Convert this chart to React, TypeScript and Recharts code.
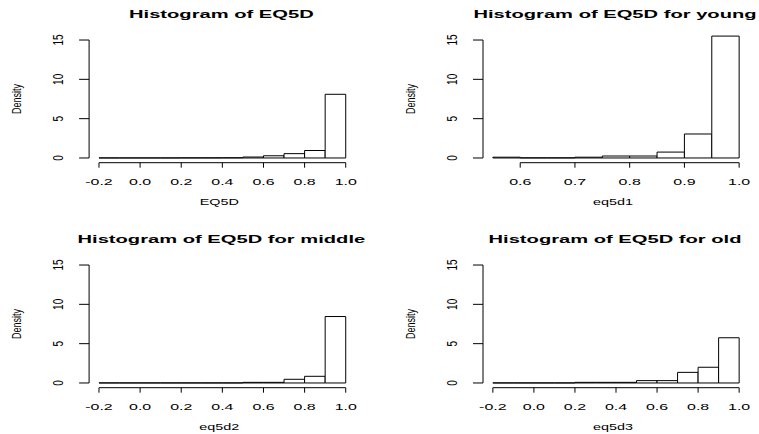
import React from "react";
import { ComposedChart, ReferenceArea, ReferenceLine, XAxis, YAxis } from "recharts";

// histogram breaks and densities
const fullBreaks = [-0.2, -0.1, 0, 0.1, 0.2, 0.3, 0.4, 0.5, 0.6, 0.7, 0.8, 0.9, 1.0];
const youngBreaks = [0.55, 0.6, 0.65, 0.7, 0.75, 0.8, 0.85, 0.9, 0.95, 1.0];

const eq5dDensity = [0.01, 0.01, 0.01, 0.01, 0.02, 0.02, 0.03, 0.12, 0.28, 0.55, 0.95, 8.1];
const youngDensity = [0.1, 0.02, 0.02, 0.1, 0.25, 0.25, 0.75, 3.05, 15.5];
const middleDensity = [0.01, 0.01, 0.01, 0.01, 0.01, 0.01, 0.01, 0.08, 0.08, 0.47, 0.85, 8.45];
const oldDensity = [0.01, 0.01, 0.01, 0.01, 0.08, 0.08, 0.08, 0.3, 0.3, 1.35, 2.0, 5.75];

const fullTicks = [-0.2, 0, 0.2, 0.4, 0.6, 0.8, 1.0];
const youngTicks = [0.6, 0.7, 0.8, 0.9, 1.0];
const densityTicks = [0, 5, 10, 15];

const titles = [
  "Histogram of EQ5D",
  "Histogram of EQ5D for young",
  "Histogram of EQ5D for middle",
  "Histogram of EQ5D for old",
];
const xLabels = ["EQ5D", "eq5d1", "eq5d2", "eq5d3"];

const FONT = '"Liberation Sans", Arial, sans-serif';
const W = 380;
const H = 208;
const PLOT_TOP = 35.3;
const PLOT_BOTTOM = 162.7;
const X_AXIS_H = 40;

// R pads axis ranges by 4% on each side
const pad = (lo: number, hi: number): [number, number] => [lo - 0.04 * (hi - lo), hi + 0.04 * (hi - lo)];

function Stretched({ x, y, sx, size, bold, rotate, children }: any) {
  return (
    <text
      transform={`translate(${x} ${y}) scale(${sx} 1)${rotate ? " rotate(-90)" : ""}`}
      textAnchor="middle"
      fontFamily={FONT}
      fontSize={size}
      fontWeight={bold ? "bold" : "normal"}
      fill="#000"
    >
      {children}
    </text>
  );
}

function Panel({ left, top, title, xLabel, breaks, density, xTicks, plotLeft, plotRight }: any) {
  const rows = density.map((d: number, i: number) => ({ x0: breaks[i], x1: breaks[i + 1], d }));
  const xDom = pad(breaks[0], breaks[breaks.length - 1]);
  const yDom = pad(densityTicks[0], densityTicks[densityTicks.length - 1]);
  const cx = (plotLeft + plotRight) / 2;
  const cy = (PLOT_TOP + PLOT_BOTTOM) / 2;

  return (
    <div style={{ position: "absolute", left, top, width: W, height: H }}>
      <ComposedChart
        width={W}
        height={H}
        data={rows}
        margin={{ top: PLOT_TOP, right: W - plotRight, bottom: H - PLOT_BOTTOM - X_AXIS_H, left: 0 }}
      >
        <XAxis
          type="number"
          dataKey="x0"
          domain={xDom}
          allowDataOverflow
          ticks={xTicks}
          interval={0}
          axisLine={false}
          stroke="#000"
          tickLine={{ stroke: "#000" }}
          tickSize={5}
          tickMargin={0}
          height={X_AXIS_H}
          tick={(p: any) => (
            <Stretched x={p.x} y={p.y + 17} sx={1.68} size={9.5}>
              {Number(p.payload.value).toFixed(1)}
            </Stretched>
          )}
        />
        <YAxis
          type="number"
          domain={yDom}
          allowDataOverflow
          ticks={densityTicks}
          interval={0}
          axisLine={false}
          stroke="#000"
          tickLine={{ stroke: "#000" }}
          tickSize={10}
          tickMargin={0}
          width={plotLeft}
          tick={(p: any) => (
            <Stretched x={p.x - 16} y={p.y} sx={1.4} size={10} rotate>
              {p.payload.value}
            </Stretched>
          )}
        />
        {rows.map((r: any) => (
          <ReferenceArea
            key={r.x0}
            x1={r.x0}
            x2={r.x1}
            y1={0}
            y2={r.d}
            fill="#fff"
            fillOpacity={1}
            stroke="#000"
            strokeWidth={1}
            ifOverflow="visible"
          />
        ))}
        <ReferenceLine
          segment={[
            { x: xDom[0], y: densityTicks[0] },
            { x: xDom[0], y: densityTicks[densityTicks.length - 1] },
          ]}
          stroke="#000"
          ifOverflow="visible"
        />
        <ReferenceLine
          segment={[
            { x: xTicks[0], y: yDom[0] },
            { x: xTicks[xTicks.length - 1], y: yDom[0] },
          ]}
          stroke="#000"
          ifOverflow="visible"
        />
      </ComposedChart>
      <svg
        width={W}
        height={H}
        style={{ position: "absolute", left: 0, top: 0, pointerEvents: "none", overflow: "visible" }}
      >
        <Stretched x={cx - 1} y={18.3} sx={1.92} size={10.5} bold>
          {title}
        </Stretched>
        <Stretched x={cx - 3} y={205} sx={1.6} size={9}>
          {xLabel}
        </Stretched>
        <Stretched x={plotLeft - 68} y={cy} sx={1.4} size={9} rotate>
          Density
        </Stretched>
      </svg>
    </div>
  );
}

export default function App() {
  return (
    <div
      style={{
        position: "absolute",
        left: 0,
        top: 0,
        width: 759,
        height: 434,
        overflow: "hidden",
        background: "#fff",
      }}
    >
      <Panel left={0} top={0} title={titles[0]} xLabel={xLabels[0]} breaks={fullBreaks}
        density={eq5dDensity} xTicks={fullTicks} plotLeft={89.1} plotRight={355.6} />
      <Panel left={379} top={0} title={titles[1]} xLabel={xLabels[1]} breaks={youngBreaks}
        density={youngDensity} xTicks={youngTicks} plotLeft={104} plotRight={370} />
      <Panel left={0} top={225.3} title={titles[2]} xLabel={xLabels[2]} breaks={fullBreaks}
        density={middleDensity} xTicks={fullTicks} plotLeft={89.1} plotRight={355.6} />
      <Panel left={379} top={225.3} title={titles[3]} xLabel={xLabels[3]} breaks={fullBreaks}
        density={oldDensity} xTicks={fullTicks} plotLeft={104} plotRight={370} />
    </div>
  );
}
